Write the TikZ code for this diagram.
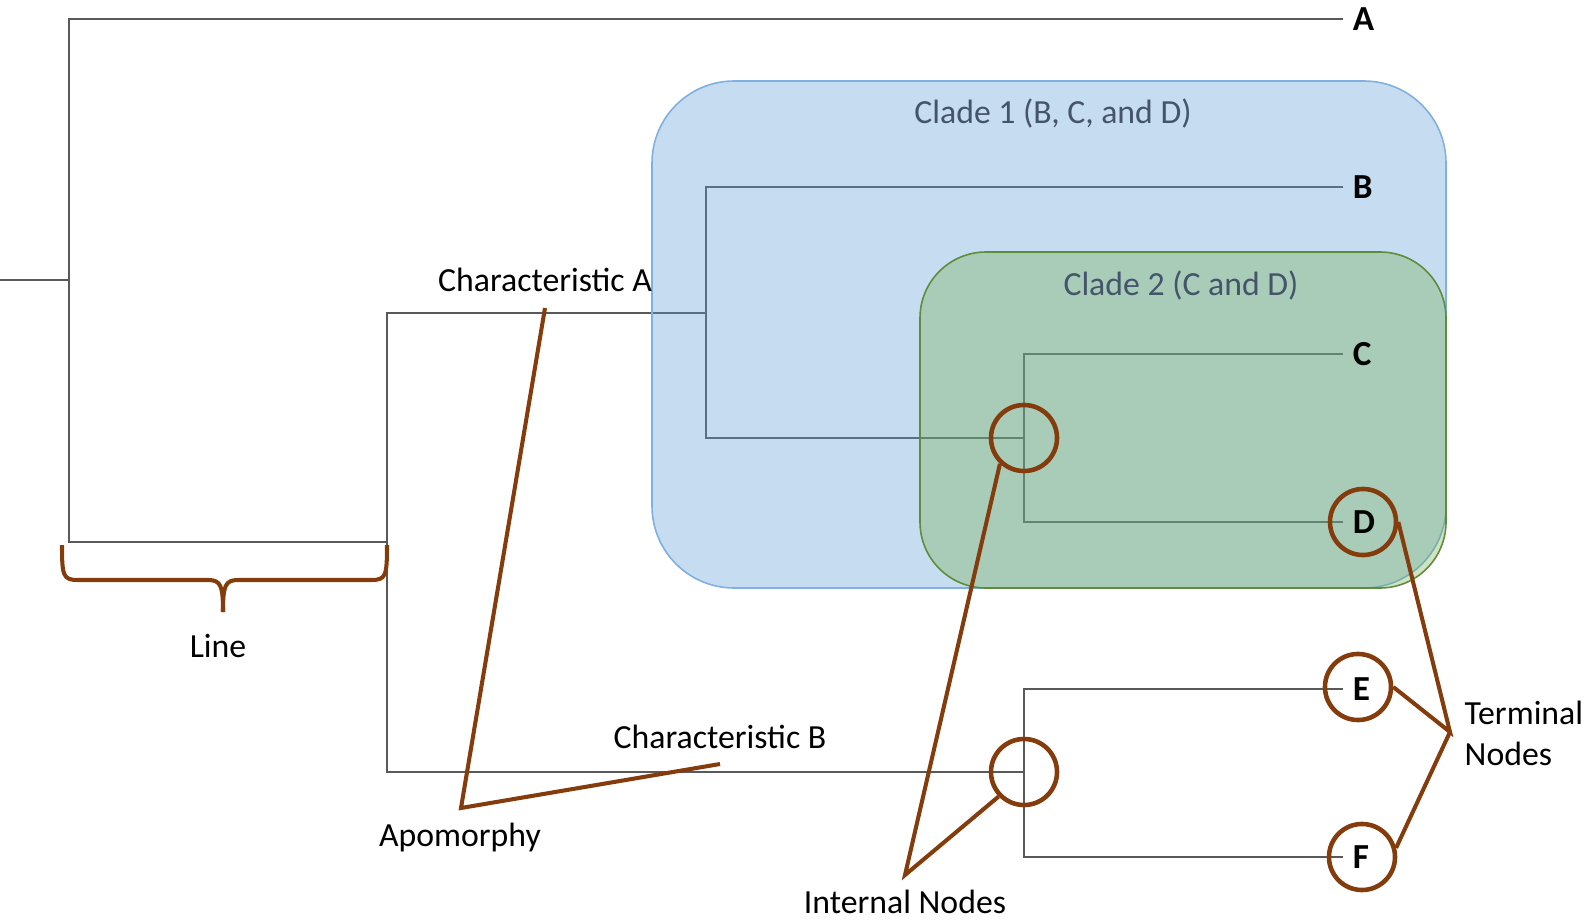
\documentclass[tikz,border=0pt]{standalone}
\usepackage{fontspec}
\setmainfont{Carlito}
\definecolor{treegray}{HTML}{595959}
\definecolor{brn}{HTML}{843C0C}
\definecolor{bluefill}{HTML}{5B9BD5}
\definecolor{blueedge}{HTML}{7FB0DE}
\definecolor{greenfill}{HTML}{70AD47}
\definecolor{greenedge}{HTML}{5E8C3A}
\definecolor{cladetxt}{HTML}{44546A}
\pgfdeclarelayer{treel}
\pgfdeclarelayer{boxl}
\pgfsetlayers{treel,boxl,main}
\begin{document}
\begin{tikzpicture}[x=0.01cm,y=-0.01cm,
  tree/.style={draw=treegray, line width=0.55pt},
  ann/.style={draw=brn, line width=1.15pt},
  ring/.style={circle, draw=brn, line width=1.3pt, minimum size=0.66cm, inner sep=0pt},
  leaf/.style={anchor=west, inner xsep=2.6pt, inner ysep=0pt, font=\fontsize{10}{12}\selectfont\bfseries},
  lbl/.style={inner sep=0pt, font=\fontsize{9.6}{11.6}\selectfont},
  clade/.style={lbl, text=cladetxt}]
\useasboundingbox (0,0) rectangle (1590,924);

% joints
\coordinate (root) at (0,280);
\coordinate (J0) at (69,280);
\coordinate (J1) at (387,542);
\coordinate (J2) at (706,313);
\coordinate (J3) at (1024,438);
\coordinate (J4) at (1024,772);

% leaf labels
\node[leaf] (A) at (1343,19) {A};
\node[leaf] (B) at (1343,187) {B};
\node[leaf] (C) at (1343,354) {C};
\node[leaf] (D) at (1343,522) {D};
\node[leaf] (E) at (1343,689) {E};
\node[leaf] (F) at (1343,857) {F};

% tree
\begin{pgfonlayer}{treel}
\draw[tree] (root) -- (J0);
\draw[tree] (A.west) -| (J0) |- (J1);
\draw[tree] (J2) -| (J1) |- (J4);
\draw[tree] (B.west) -| (J2) |- (J3);
\draw[tree] (C.west) -| (J3) |- (D.west);
\draw[tree] (E.west) -| (J4) |- (F.west);
\end{pgfonlayer}

% clade boxes
\begin{pgfonlayer}{boxl}
\draw[draw=blueedge, line width=0.45pt, fill=bluefill, fill opacity=0.35, rounded corners=0.82cm]
  (652,81) rectangle (1446,588);
\draw[draw=greenedge, line width=0.45pt, fill=greenfill, fill opacity=0.33, rounded corners=0.66cm]
  (920,252) rectangle (1446,588);
\end{pgfonlayer}
\node[clade] (clade1) at (1053,113) {Clade 1 (B, C, and D)};
\node[clade] (clade2) at (1181,285) {Clade 2 (C and D)};

% rings
\node[ring] (I1) at (J3) {};
\node[ring] (I2) at (J4) {};
\node[ring] (Dc) at (1363,522) {};
\node[ring] (Ec) at (1358,687) {};
\node[ring] (Fc) at (1362,857) {};

% annotation labels
\node[lbl] (charA) at (545,280) {Characteristic A};
\node[lbl] (charB) at (720,737) {Characteristic B};
\node[lbl] (apo) at (460,837) {Apomorphy};
\node[lbl] (intn) at (905,902) {Internal Nodes};
\node[lbl] (line) at (218,646) {Line};
\node[lbl, anchor=west, align=left] (term) at (1464,733) {Terminal\\Nodes};

% annotation lines
\coordinate (apoTop) at (545,308);
\coordinate (apoApex) at (461,808);
\coordinate (apoEnd) at (720,764);
\coordinate (iApex) at (905,875);
\coordinate (tApex) at (1450,732);
\draw[ann] (apoTop) -- (apoApex) -- (apoEnd);
\draw[ann] (I1.227) -- (iApex) -- (I2.224);
\draw[ann] (Dc.east) -- (tApex) -- (Ec.east);
\draw[ann] (tApex) -- (Fc.15);

% brace
\draw[ann] (62,545) .. controls (62,576) and (63,580) .. (78,580) -- (208,580)
  .. controls (221,580) and (223,586) .. (223,612);
\draw[ann] (387,545) .. controls (387,576) and (386,580) .. (371,580) -- (238,580)
  .. controls (225,580) and (223,586) .. (223,612);
\end{tikzpicture}
\end{document}
